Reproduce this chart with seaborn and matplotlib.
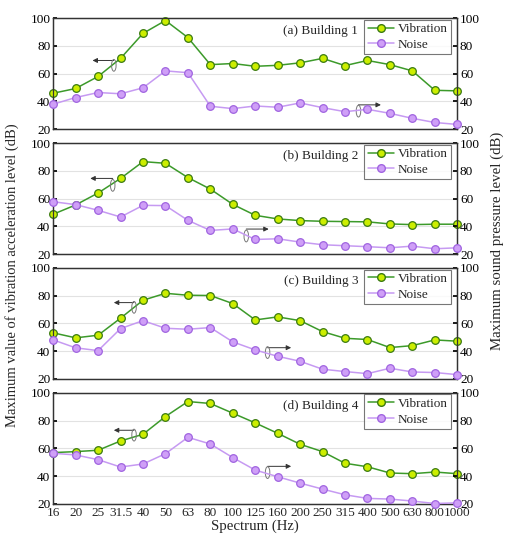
import numpy as np
import pandas as pd
import matplotlib
matplotlib.use('Agg')
import matplotlib.pyplot as plt
import seaborn as sns
from matplotlib.patches import Ellipse
from matplotlib.lines import Line2D

# Frequency bands (Hz)
freqs = ['16', '20', '25', '31.5', '40', '50', '63', '80', '100', '125',
         '160', '200', '250', '315', '400', '500', '630', '800', '1000']

# Vibration acceleration level (dB)
vib_b1 = [45.9, 49.3, 58.0, 71.0, 89.0, 98.3, 86.0, 66.5, 67.3, 65.3,
          66.0, 67.8, 71.0, 65.8, 69.5, 66.5, 62.0, 48.0, 47.6]
vib_b2 = [48.7, 55.4, 64.0, 74.5, 86.6, 85.4, 75.1, 66.8, 55.8, 47.9,
          45.3, 44.1, 43.6, 43.4, 43.2, 41.7, 41.2, 41.5, 41.5]
vib_b3 = [53.2, 49.6, 51.5, 63.8, 76.7, 81.7, 80.3, 80.1, 74.3, 62.5,
          64.7, 62.0, 54.1, 49.3, 48.4, 42.6, 44.0, 48.1, 47.2]
vib_b4 = [56.9, 57.6, 58.6, 65.3, 70.1, 82.9, 93.7, 92.3, 85.3, 78.3,
          70.8, 62.9, 57.6, 49.2, 46.7, 42.2, 41.7, 42.9, 41.7]

# Sound pressure level (dB)
noise_b1 = [38.0, 42.8, 46.4, 45.5, 49.8, 62.0, 60.7, 36.5, 34.8, 36.7,
            35.8, 38.9, 35.5, 32.6, 34.3, 31.4, 27.8, 24.8, 23.4]
noise_b2 = [57.7, 55.6, 51.5, 46.7, 55.1, 54.9, 44.3, 37.0, 38.1, 30.5,
            31.0, 28.6, 26.7, 26.0, 25.3, 24.5, 25.7, 23.8, 24.5]
noise_b3 = [48.1, 42.4, 40.4, 56.3, 62.0, 56.5, 55.8, 57.0, 46.7, 40.9,
            36.3, 32.7, 27.0, 25.3, 23.8, 27.7, 25.0, 24.6, 23.1]
noise_b4 = [56.4, 55.2, 51.8, 46.5, 48.7, 56.1, 67.9, 63.1, 53.3, 44.3,
            39.5, 34.9, 30.6, 26.5, 23.9, 23.4, 22.0, 20.2, 20.7]

titles = ['(a) Building 1', '(b) Building 2', '(c) Building 3', '(d) Building 4']
vib_all = [vib_b1, vib_b2, vib_b3, vib_b4]
noise_all = [noise_b1, noise_b2, noise_b3, noise_b4]

# (ellipse x, ellipse y, arrow end x, arrow end y) for each callout
vib_call = [(2.7, 66, 1.75, 69.5), (2.65, 69.5, 1.65, 74.5),
            (3.6, 71.6, 2.7, 75), (3.6, 69.5, 2.7, 73)]
noise_call = [(13.6, 33, 14.6, 37.5), (8.6, 33, 9.6, 38),
              (9.55, 39, 10.6, 42.5), (9.55, 42.5, 10.6, 47)]

sns.set_theme(style='white')
plt.rcParams['font.family'] = ['Liberation Serif', 'DejaVu Serif']

vib_line, vib_face, vib_edge = '#3c9a2a', '#ccee00', '#3a7a10'
noi_line, noi_face, noi_edge = '#c69af2', '#cf9ff7', '#a064e0'
fs = 9.5

fig, axes = plt.subplots(4, 1, figsize=(5.12, 5.5), dpi=100, sharex=True)
fig.subplots_adjust(left=0.104, right=0.893, top=0.967, bottom=0.084, hspace=0.125)

x = np.arange(len(freqs))
for i, ax in enumerate(axes):
    df = pd.DataFrame({'x': x, 'vib': vib_all[i], 'noise': noise_all[i]})
    ax2 = ax.twinx()
    sns.lineplot(data=df, x='x', y='vib', ax=ax, color=vib_line, lw=1.1,
                 marker='o', markersize=5.5, markerfacecolor=vib_face,
                 markeredgecolor=vib_edge, markeredgewidth=0.9, clip_on=False, zorder=3)
    sns.lineplot(data=df, x='x', y='noise', ax=ax2, color=noi_line, lw=1.1,
                 marker='o', markersize=5.5, markerfacecolor=noi_face,
                 markeredgecolor=noi_edge, markeredgewidth=0.9, clip_on=False, zorder=3)
    for a in (ax, ax2):
        a.set_ylim(20, 100)
        a.set_yticks([20, 40, 60, 80, 100])
        a.set_ylabel('')
        a.tick_params(axis='y', labelsize=fs, direction='in', length=3,
                      colors='black', pad=2)
    ax.set_xlim(0, len(freqs) - 1)
    ax.set_xlabel('')
    ax.yaxis.grid(True, color='#e2e2e2', lw=0.8)
    ax.set_axisbelow(True)
    ax.tick_params(axis='x', direction='in', length=3, labelsize=fs)
    for s in list(ax.spines.values()) + list(ax2.spines.values()):
        s.set_color('#333333')
        s.set_linewidth(0.9)

    ax.text(0.755, 0.88, titles[i], transform=ax.transAxes, ha='right',
            va='center', fontsize=fs)

    # callouts pointing to the matching axis
    for ex, ey, axx, ayy in (vib_call[i], noise_call[i]):
        ax.add_patch(Ellipse((ex, ey), 0.2, 8.5, fill=False, ec='#777777',
                             lw=0.7, zorder=4))
        ax.annotate('', xy=(axx, ayy), xytext=(ex, ayy),
                    arrowprops=dict(arrowstyle='-|>', color='#333333', lw=0.7,
                                    mutation_scale=7, shrinkA=0, shrinkB=0))

    handles = [Line2D([], [], color=vib_line, lw=1.1, marker='o', markersize=5.5,
                      markerfacecolor=vib_face, markeredgecolor=vib_edge),
               Line2D([], [], color=noi_line, lw=1.1, marker='o', markersize=5.5,
                      markerfacecolor=noi_face, markeredgecolor=noi_edge)]
    leg = ax2.legend(handles, ['Vibration', 'Noise'], loc='upper right',
                     bbox_to_anchor=(0.985, 0.985),
                     fontsize=fs, frameon=True, fancybox=False, borderpad=0.25,
                     handlelength=2.0, handletextpad=0.3, labelspacing=0.25,
                     borderaxespad=0.0)
    leg.get_frame().set_edgecolor('#555555')
    leg.get_frame().set_linewidth(0.8)

axes[-1].set_xticks(x)
axes[-1].set_xticklabels(freqs)
axes[-1].tick_params(axis='x', pad=2)
axes[-1].set_xlabel('Spectrum (Hz)', fontsize=10.7, labelpad=1)

fig.text(0.023, 0.5, 'Maximum value of vibration acceleration level (dB)',
         rotation=90, ha='center', va='center', fontsize=10.5)
fig.text(0.971, 0.562, 'Maximum sound pressure level (dB)',
         rotation=90, ha='center', va='center', fontsize=10.7)

fig.savefig('out.png', dpi=100)
